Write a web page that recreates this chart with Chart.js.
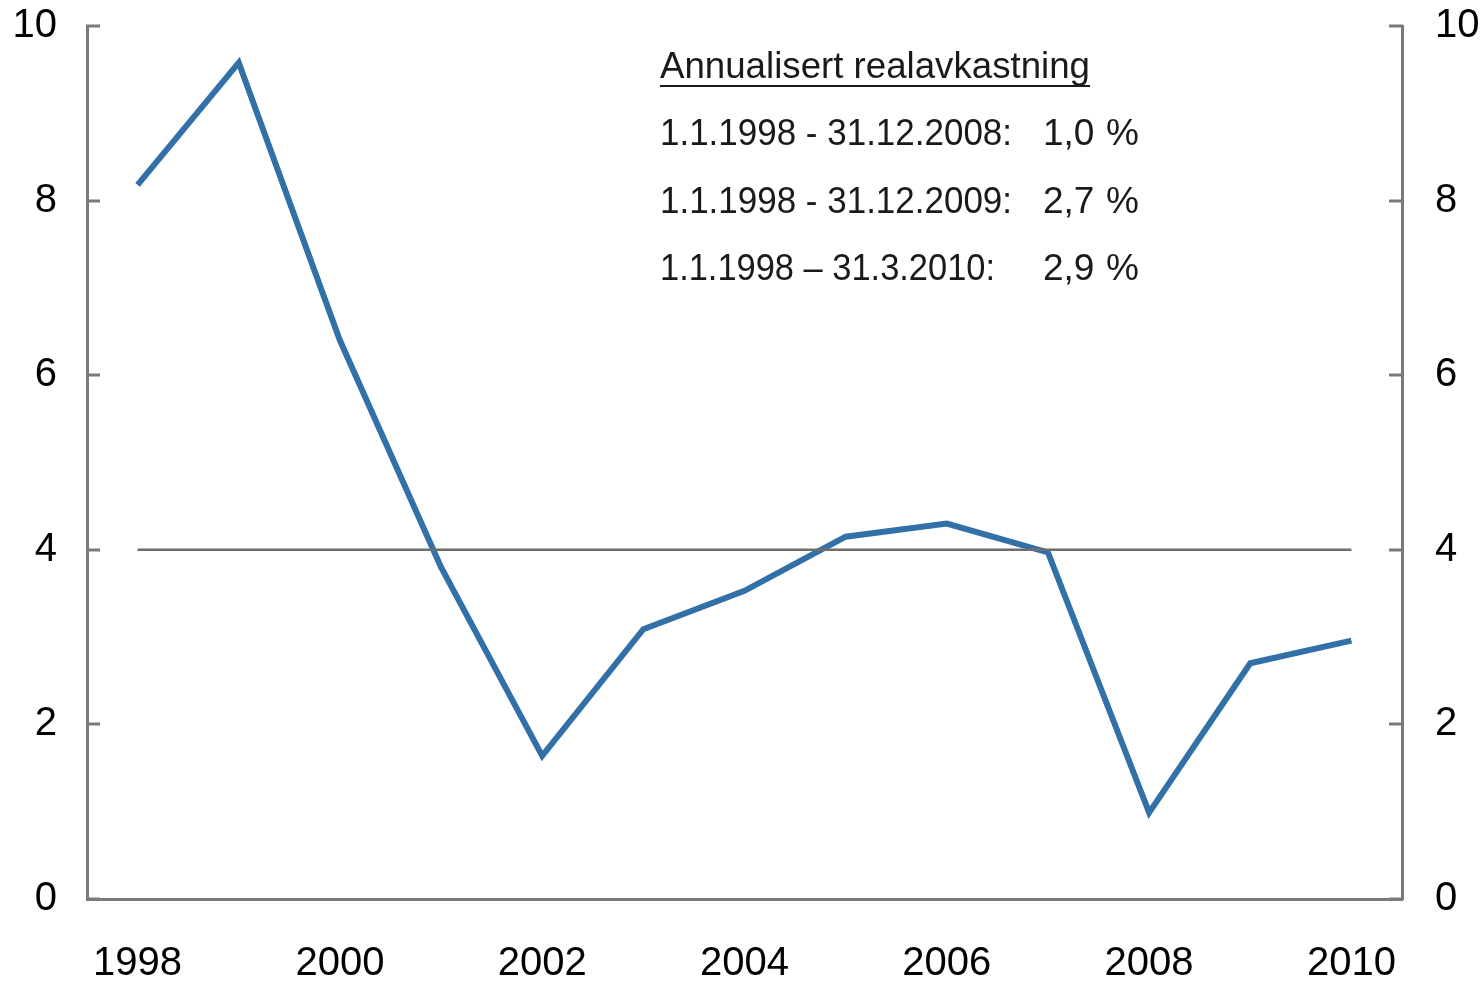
<!DOCTYPE html>
<html><head><meta charset="utf-8">
<script src="https://cdn.jsdelivr.net/npm/chart.js@4/dist/chart.umd.min.js"></script>
<style>html,body{margin:0;padding:0;background:#fff}#wrap{width:1484px;height:981px}</style>
</head><body><div id="wrap"><canvas id="c"></canvas></div>
<script>
const years = ['1998','1999','2000','2001','2002','2003','2004','2005','2006','2007','2008','2009','2010'];
const realReturn = [8.18, 9.58, 6.40, 3.80, 1.64, 3.09, 3.53, 4.15, 4.30, 3.97, 0.99, 2.70, 2.96];
const refLine = [4,4,4,4,4,4,4,4,4,4,4,4,4];
const yTicks = [0,2,4,6,8,10];
const noteTitle = 'Annualisert realavkastning';
const notePeriods = ['1.1.1998 - 31.12.2008:', '1.1.1998 - 31.12.2009:', '1.1.1998 \u2013 31.3.2010:'];
const noteValues = ['1,0', '2,7', '2,9'];
const noteUnit = '%';

const axisGrey = '#7a7a7a';
const fontFam = '"Liberation Sans", Arial, sans-serif';

const innerTicks = {
  id: 'innerTicks',
  afterDraw(chart) {
    const ctx = chart.ctx;
    const yL = chart.scales.y, yR = chart.scales.y2;
    ctx.save();
    ctx.strokeStyle = axisGrey;
    ctx.lineWidth = 3;
    yTicks.forEach(v => {
      const py = Math.round(yL.getPixelForValue(v));
      ctx.beginPath();
      ctx.moveTo(yL.right - 1, py); ctx.lineTo(yL.right + 13, py);
      ctx.stroke();
      ctx.beginPath();
      ctx.moveTo(yR.left + 1, py); ctx.lineTo(yR.left - 13, py);
      ctx.stroke();
    });
    ctx.restore();
  }
};

const note = {
  id: 'note',
  afterDraw(chart) {
    const ctx = chart.ctx;
    ctx.save();
    ctx.fillStyle = '#1a1a1a';
    ctx.font = '37px ' + fontFam;
    ctx.textBaseline = 'middle';
    ctx.textAlign = 'left';
    const x0 = 660, xv = 1043, xu = 1106;
    ctx.fillText(noteTitle, x0, 68, 430);
    const w = Math.min(430, ctx.measureText(noteTitle).width);
    ctx.fillRect(x0, 85, w, 2);
    const rows = [135, 203, 270];
    const widths = [352, 352, 335];
    notePeriods.forEach((t, i) => {
      ctx.fillText(t, x0, rows[i], widths[i]);
      ctx.fillText(noteValues[i], xv, rows[i]);
      ctx.fillText(noteUnit, xu, rows[i]);
    });
    ctx.restore();
  }
};

function zeroPad(s) { s.paddingTop = 0; s.paddingBottom = 0; s.paddingLeft = 0; s.paddingRight = 0; }

new Chart(document.getElementById('c'), {
  type: 'line',
  data: {
    labels: years,
    datasets: [
      { data: refLine, borderColor: '#6e6e6e', borderWidth: 2.5, pointRadius: 0, tension: 0, yAxisID: 'y' },
      { data: realReturn, borderColor: '#3171a8', borderWidth: 6, pointRadius: 0, tension: 0, yAxisID: 'y', borderJoinStyle: 'miter' }
    ]
  },
  options: {
    responsive: true,
    maintainAspectRatio: false,
    animation: false,
    layout: { padding: { top: 26, left: 0, right: 0, bottom: 0 } },
    plugins: { legend: { display: false }, tooltip: { enabled: false } },
    scales: {
      x: {
        type: 'category',
        offset: true,
        grid: { display: false, drawTicks: false },
        border: { display: true, color: axisGrey, width: 3 },
        ticks: {
          autoSkip: false, maxRotation: 0, color: '#000', padding: 41,
          font: { family: fontFam, size: 40 },
          callback: function(v, i) { return i % 2 === 0 ? years[i] : ''; }
        },
        afterFit(s) { s.height = 82; zeroPad(s); }
      },
      y: {
        position: 'left', min: 0, max: 10,
        grid: { drawOnChartArea: false, drawTicks: false },
        border: { display: true, color: axisGrey, width: 3 },
        ticks: { stepSize: 2, color: '#000', padding: 30, font: { family: fontFam, size: 40 } },
        afterFit(s) { s.width = 87; zeroPad(s); }
      },
      y2: {
        position: 'right', min: 0, max: 10,
        grid: { drawOnChartArea: false, drawTicks: false },
        border: { display: true, color: axisGrey, width: 3 },
        ticks: { stepSize: 2, color: '#000', padding: 33, font: { family: fontFam, size: 40 } },
        afterFit(s) { s.width = 82; zeroPad(s); }
      }
    }
  },
  plugins: [innerTicks, note]
});
</script></body></html>
